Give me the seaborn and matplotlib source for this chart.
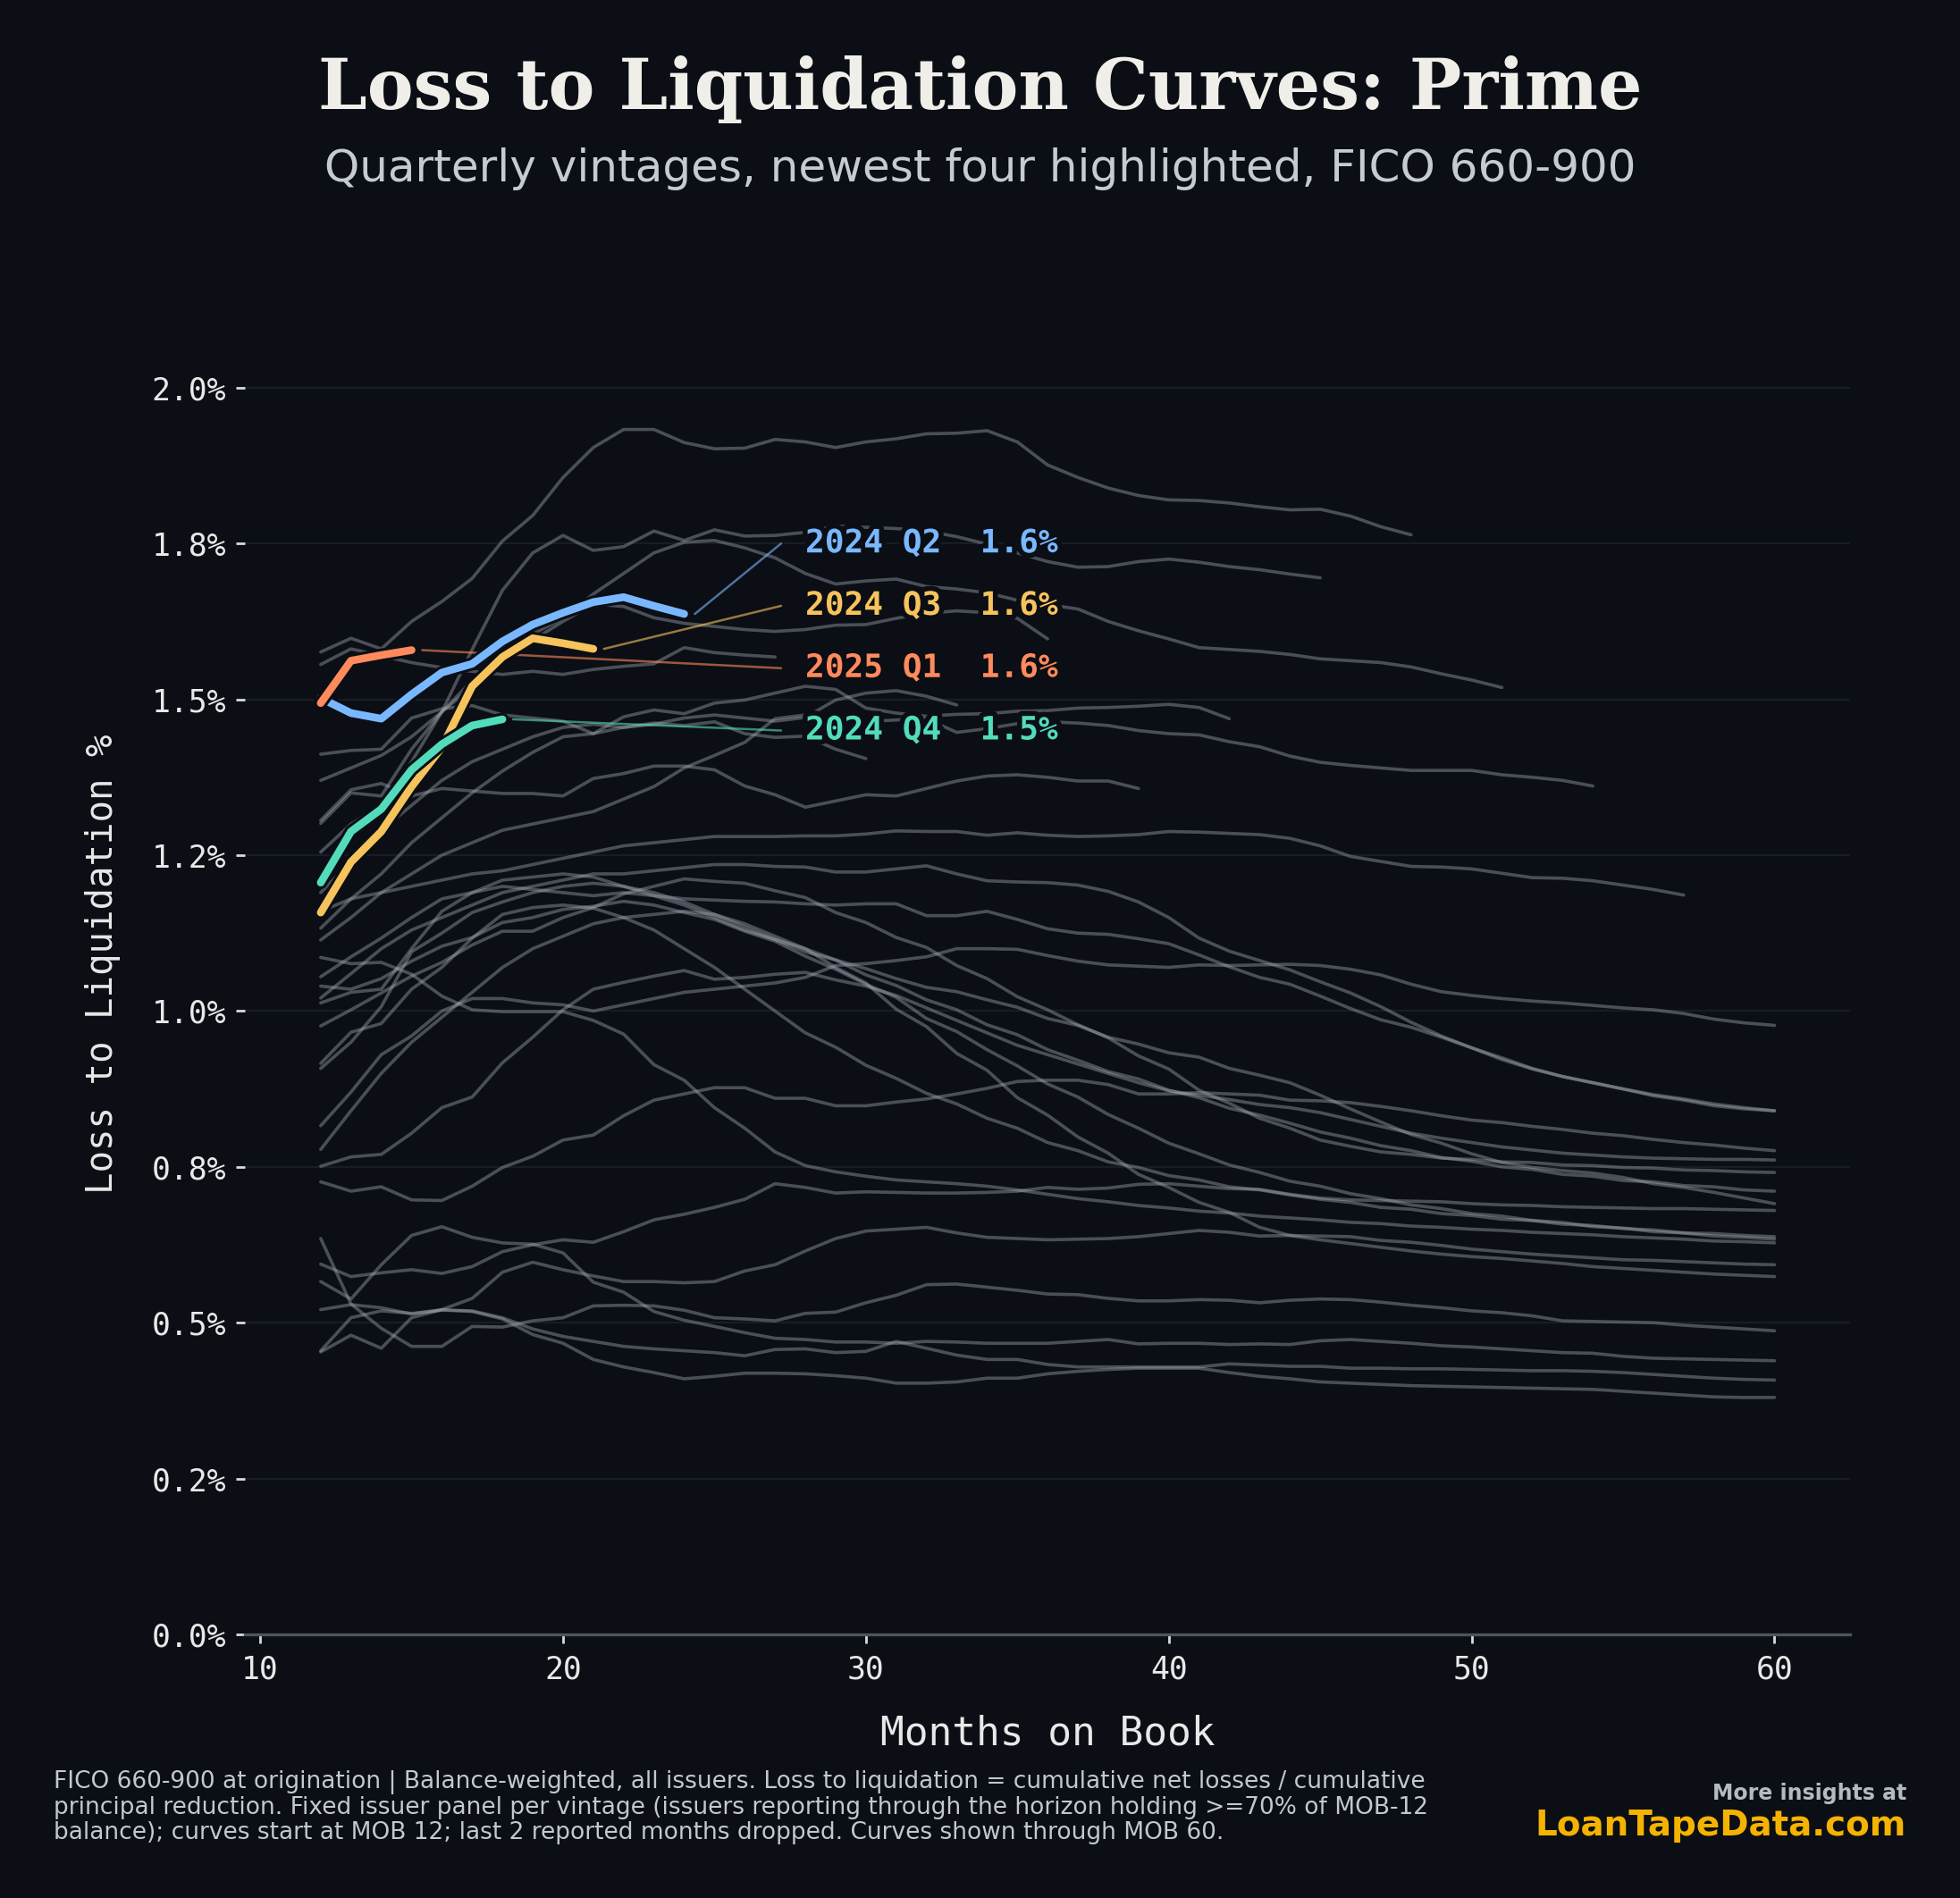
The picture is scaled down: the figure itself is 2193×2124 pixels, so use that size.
import matplotlib
matplotlib.use("Agg")
import matplotlib.pyplot as plt
import matplotlib.patheffects as pe
from matplotlib.ticker import MultipleLocator, FuncFormatter
import pandas as pd
import seaborn as sns

FIRST_MOB = 12

# --- gray vintages (loss to liquidation %, MOB 12 onward) ---
v2017_q1 = [0.521, 0.529, 0.524, 0.514, 0.521, 0.518, 0.506, 0.481, 0.467, 0.441, 0.429, 0.420, 0.410, 0.414, 0.419, 0.419, 0.418,
            0.415, 0.411, 0.403, 0.403, 0.405, 0.411, 0.411, 0.418, 0.422, 0.425, 0.427, 0.427, 0.427, 0.420, 0.414, 0.410,
            0.405, 0.403, 0.401, 0.399, 0.398, 0.397, 0.396, 0.395, 0.394, 0.393, 0.390, 0.387, 0.384, 0.381, 0.380, 0.380]
v2017_q2 = [0.455, 0.508, 0.519, 0.515, 0.520, 0.519, 0.508, 0.490, 0.478, 0.470, 0.462, 0.458, 0.455, 0.452, 0.447, 0.457, 0.458,
            0.452, 0.454, 0.470, 0.459, 0.448, 0.441, 0.441, 0.433, 0.429, 0.429, 0.429, 0.429, 0.429, 0.434, 0.432, 0.430,
            0.430, 0.427, 0.427, 0.426, 0.426, 0.425, 0.424, 0.423, 0.423, 0.422, 0.420, 0.417, 0.414, 0.411, 0.409, 0.408]
v2017_q3 = [0.566, 0.538, 0.593, 0.640, 0.654, 0.637, 0.628, 0.626, 0.612, 0.565, 0.549, 0.518, 0.504, 0.494, 0.484, 0.475, 0.473,
            0.469, 0.469, 0.467, 0.470, 0.469, 0.467, 0.467, 0.467, 0.470, 0.473, 0.466, 0.467, 0.467, 0.465, 0.466, 0.465,
            0.471, 0.473, 0.470, 0.467, 0.463, 0.461, 0.458, 0.455, 0.452, 0.451, 0.446, 0.443, 0.442, 0.441, 0.440, 0.439]
v2017_q4 = [0.635, 0.530, 0.491, 0.462, 0.462, 0.494, 0.493, 0.503, 0.508, 0.527, 0.528, 0.527, 0.520, 0.508, 0.506, 0.503, 0.515,
            0.517, 0.532, 0.544, 0.561, 0.562, 0.557, 0.552, 0.546, 0.545, 0.539, 0.535, 0.535, 0.537, 0.536, 0.532, 0.536,
            0.538, 0.537, 0.533, 0.528, 0.524, 0.519, 0.516, 0.511, 0.503, 0.502, 0.501, 0.500, 0.496, 0.493, 0.490, 0.487]
v2018_q1 = [0.453, 0.480, 0.459, 0.508, 0.521, 0.539, 0.581, 0.597, 0.585, 0.575, 0.566, 0.566, 0.564, 0.566, 0.583, 0.593, 0.615,
            0.635, 0.647, 0.650, 0.653, 0.644, 0.637, 0.635, 0.633, 0.634, 0.635, 0.638, 0.643, 0.648, 0.645, 0.639, 0.640,
            0.639, 0.638, 0.632, 0.629, 0.624, 0.618, 0.614, 0.610, 0.607, 0.604, 0.601, 0.600, 0.598, 0.596, 0.594, 0.593]
v2018_q2 = [0.594, 0.574, 0.580, 0.585, 0.579, 0.590, 0.614, 0.625, 0.633, 0.629, 0.646, 0.665, 0.674, 0.685, 0.698, 0.723, 0.717,
            0.708, 0.710, 0.709, 0.708, 0.708, 0.709, 0.711, 0.717, 0.714, 0.716, 0.722, 0.723, 0.719, 0.715, 0.714, 0.706,
            0.700, 0.697, 0.696, 0.695, 0.694, 0.691, 0.689, 0.688, 0.686, 0.685, 0.684, 0.683, 0.683, 0.682, 0.681, 0.680]
v2018_q3 = [0.726, 0.711, 0.718, 0.697, 0.696, 0.719, 0.749, 0.767, 0.793, 0.801, 0.832, 0.857, 0.867, 0.877, 0.877, 0.860, 0.860,
            0.848, 0.848, 0.854, 0.859, 0.867, 0.876, 0.887, 0.889, 0.889, 0.882, 0.867, 0.867, 0.869, 0.867, 0.865, 0.857,
            0.856, 0.853, 0.847, 0.840, 0.832, 0.825, 0.821, 0.815, 0.810, 0.804, 0.800, 0.794, 0.789, 0.785, 0.780, 0.776]
v2018_q4 = [0.751, 0.766, 0.770, 0.804, 0.845, 0.862, 0.917, 0.958, 1.002, 1.035, 1.046, 1.056, 1.065, 1.051, 1.054, 1.059, 1.062,
            1.050, 1.040, 1.025, 1.005, 0.985, 0.965, 0.945, 0.930, 0.915, 0.900, 0.885, 0.872, 0.865, 0.858, 0.850, 0.845,
            0.837, 0.826, 0.815, 0.804, 0.796, 0.789, 0.782, 0.777, 0.772, 0.769, 0.766, 0.764, 0.763, 0.762, 0.762, 0.761]
v2019_q1 = [0.778, 0.840, 0.900, 0.950, 0.990, 1.030, 1.070, 1.100, 1.120, 1.140, 1.150, 1.155, 1.160, 1.155, 1.140, 1.120, 1.100,
            1.070, 1.045, 1.003, 0.975, 0.932, 0.905, 0.861, 0.833, 0.798, 0.772, 0.738, 0.717, 0.693, 0.677, 0.653, 0.640,
            0.633, 0.627, 0.621, 0.615, 0.610, 0.606, 0.603, 0.599, 0.595, 0.590, 0.587, 0.584, 0.581, 0.578, 0.576, 0.574]
v2019_q2 = [0.916, 0.966, 0.980, 1.035, 1.070, 1.117, 1.155, 1.166, 1.170, 1.165, 1.150, 1.130, 1.100, 1.070, 1.035, 1.000, 0.965,
            0.942, 0.913, 0.892, 0.868, 0.851, 0.828, 0.812, 0.789, 0.776, 0.758, 0.749, 0.736, 0.729, 0.718, 0.713, 0.705,
            0.698, 0.693, 0.685, 0.682, 0.675, 0.672, 0.666, 0.664, 0.658, 0.656, 0.651, 0.649, 0.644, 0.643, 0.640, 0.638]
v2019_q3 = [1.040, 1.035, 1.052, 1.080, 1.104, 1.118, 1.142, 1.150, 1.163, 1.168, 1.176, 1.170, 1.158, 1.147, 1.128, 1.112, 1.088,
            1.067, 1.043, 1.022, 0.988, 0.967, 0.938, 0.912, 0.883, 0.862, 0.834, 0.812, 0.788, 0.771, 0.753, 0.741, 0.727,
            0.719, 0.707, 0.699, 0.689, 0.683, 0.675, 0.671, 0.664, 0.661, 0.654, 0.652, 0.646, 0.644, 0.639, 0.637, 0.634]
v2019_q4 = [1.086, 1.076, 1.078, 1.059, 1.024, 1.002, 0.999, 0.999, 0.999, 0.985, 0.963, 0.914, 0.889, 0.845, 0.812, 0.774, 0.752,
            0.742, 0.735, 0.729, 0.726, 0.723, 0.719, 0.713, 0.706, 0.699, 0.694, 0.688, 0.684, 0.679, 0.676, 0.671, 0.668,
            0.665, 0.661, 0.659, 0.655, 0.653, 0.650, 0.648, 0.645, 0.643, 0.641, 0.638, 0.636, 0.634, 0.631, 0.630, 0.628]
v2020_q1 = [0.908, 0.950, 1.007, 1.095, 1.125, 1.158, 1.175, 1.190, 1.200, 1.205, 1.200, 1.190, 1.175, 1.155, 1.135, 1.115, 1.095,
            1.082, 1.058, 1.041, 1.018, 1.002, 0.978, 0.962, 0.938, 0.921, 0.903, 0.891, 0.873, 0.861, 0.844, 0.833, 0.820,
            0.806, 0.796, 0.784, 0.776, 0.765, 0.759, 0.750, 0.746, 0.738, 0.735, 0.728, 0.726, 0.720, 0.718, 0.713, 0.711]
v2020_q2 = [0.976, 1.002, 1.029, 1.056, 1.078, 1.106, 1.128, 1.128, 1.150, 1.166, 1.188, 1.200, 1.212, 1.208, 1.205, 1.193, 1.182,
            1.158, 1.142, 1.118, 1.102, 1.073, 1.052, 1.023, 1.002, 0.978, 0.957, 0.928, 0.907, 0.873, 0.852, 0.828, 0.812,
            0.793, 0.783, 0.774, 0.770, 0.764, 0.762, 0.758, 0.757, 0.753, 0.752, 0.749, 0.748, 0.745, 0.744, 0.742, 0.741]
v2020_q3 = [1.013, 1.030, 1.035, 1.100, 1.160, 1.190, 1.210, 1.215, 1.220, 1.215, 1.200, 1.185, 1.170, 1.150, 1.130, 1.115, 1.100,
            1.082, 1.068, 1.052, 1.038, 1.031, 1.018, 1.006, 0.988, 0.977, 0.958, 0.947, 0.933, 0.926, 0.908, 0.897, 0.885,
            0.865, 0.843, 0.822, 0.802, 0.788, 0.771, 0.757, 0.749, 0.744, 0.740, 0.733, 0.723, 0.717, 0.709, 0.700, 0.691]
v2020_q4 = [1.055, 1.087, 1.117, 1.150, 1.180, 1.190, 1.200, 1.195, 1.190, 1.185, 1.190, 1.185, 1.180, 1.178, 1.176, 1.175, 1.172,
            1.170, 1.172, 1.172, 1.153, 1.153, 1.160, 1.147, 1.132, 1.125, 1.123, 1.116, 1.108, 1.090, 1.071, 1.054, 1.043,
            1.024, 1.004, 0.986, 0.974, 0.958, 0.941, 0.925, 0.908, 0.895, 0.885, 0.875, 0.864, 0.857, 0.848, 0.843, 0.840]
v2021_q1 = [1.021, 1.060, 1.100, 1.130, 1.150, 1.170, 1.190, 1.200, 1.210, 1.220, 1.220, 1.225, 1.230, 1.235, 1.235, 1.232, 1.231,
            1.223, 1.223, 1.228, 1.233, 1.220, 1.209, 1.207, 1.206, 1.202, 1.192, 1.175, 1.150, 1.117, 1.096, 1.081, 1.066,
            1.047, 1.029, 1.007, 0.982, 0.960, 0.941, 0.922, 0.907, 0.895, 0.885, 0.875, 0.866, 0.859, 0.851, 0.845, 0.840]
v2021_q2 = [0.816, 0.870, 0.930, 0.960, 1.000, 1.020, 1.020, 1.013, 1.010, 1.000, 1.010, 1.020, 1.030, 1.035, 1.040, 1.045, 1.054,
            1.073, 1.076, 1.081, 1.087, 1.100, 1.100, 1.099, 1.089, 1.080, 1.074, 1.072, 1.070, 1.074, 1.073, 1.074, 1.075,
            1.073, 1.067, 1.058, 1.043, 1.031, 1.025, 1.020, 1.016, 1.013, 1.009, 1.005, 1.002, 0.996, 0.987, 0.981, 0.977]
v2021_q3 = [1.160, 1.180, 1.190, 1.200, 1.210, 1.220, 1.225, 1.235, 1.245, 1.255, 1.265, 1.270, 1.275, 1.280, 1.280, 1.280, 1.281,
            1.281, 1.284, 1.289, 1.288, 1.288, 1.282, 1.286, 1.282, 1.280, 1.281, 1.283, 1.288, 1.287, 1.285, 1.283, 1.277,
            1.265, 1.248, 1.240, 1.232, 1.231, 1.228, 1.221, 1.214, 1.213, 1.209, 1.202, 1.195, 1.186]
v2021_q4 = [1.114, 1.150, 1.190, 1.220, 1.250, 1.270, 1.290, 1.300, 1.310, 1.320, 1.340, 1.360, 1.390, 1.410, 1.431, 1.469, 1.475,
            1.469, 1.464, 1.467, 1.469, 1.447, 1.453, 1.461, 1.464, 1.462, 1.458, 1.450, 1.445, 1.443, 1.432, 1.424, 1.409,
            1.399, 1.394, 1.390, 1.386, 1.386, 1.386, 1.379, 1.375, 1.370, 1.361]
v2022_q1 = [1.301, 1.350, 1.345, 1.420, 1.480, 1.530, 1.570, 1.605, 1.630, 1.669, 1.702, 1.735, 1.752, 1.755, 1.743, 1.727, 1.702,
            1.685, 1.690, 1.693, 1.681, 1.677, 1.671, 1.659, 1.652, 1.645, 1.625, 1.610, 1.597, 1.583, 1.580, 1.577, 1.572,
            1.565, 1.562, 1.559, 1.552, 1.541, 1.531, 1.519]
v2022_q2 = [1.576, 1.598, 1.581, 1.625, 1.657, 1.694, 1.754, 1.795, 1.856, 1.904, 1.933, 1.933, 1.912, 1.902, 1.903, 1.917, 1.913,
            1.904, 1.913, 1.918, 1.926, 1.927, 1.931, 1.913, 1.876, 1.856, 1.839, 1.827, 1.820, 1.819, 1.815, 1.809, 1.804,
            1.805, 1.794, 1.777, 1.764]
v2022_q3 = [1.255, 1.300, 1.330, 1.400, 1.480, 1.580, 1.675, 1.735, 1.763, 1.739, 1.745, 1.770, 1.755, 1.772, 1.762, 1.763, 1.768,
            1.778, 1.776, 1.774, 1.770, 1.761, 1.749, 1.735, 1.721, 1.712, 1.713, 1.721, 1.725, 1.720, 1.713, 1.708, 1.701,
            1.695]
v2022_q4 = [1.133, 1.180, 1.220, 1.270, 1.310, 1.350, 1.385, 1.415, 1.440, 1.445, 1.472, 1.483, 1.477, 1.494, 1.499, 1.510, 1.521,
            1.516, 1.486, 1.478, 1.473, 1.476, 1.477, 1.481, 1.482, 1.486, 1.487, 1.489, 1.492, 1.487, 1.469]
v2023_q1 = [1.306, 1.355, 1.365, 1.345, 1.357, 1.353, 1.349, 1.349, 1.345, 1.373, 1.381, 1.393, 1.393, 1.387, 1.361, 1.347, 1.327,
            1.337, 1.347, 1.345, 1.357, 1.369, 1.377, 1.379, 1.375, 1.369, 1.369, 1.357]
v2023_q2 = [1.370, 1.390, 1.410, 1.440, 1.480, 1.520, 1.560, 1.595, 1.625, 1.653, 1.649, 1.631, 1.622, 1.617, 1.612, 1.609, 1.612,
            1.619, 1.620, 1.630, 1.638, 1.642, 1.639, 1.630, 1.597]
v2023_q3 = [1.190, 1.240, 1.290, 1.330, 1.370, 1.400, 1.420, 1.440, 1.455, 1.460, 1.455, 1.460, 1.470, 1.475, 1.470, 1.465, 1.471,
            1.499, 1.510, 1.514, 1.505, 1.491]
v2023_q4 = [1.412, 1.418, 1.420, 1.470, 1.485, 1.490, 1.475, 1.470, 1.465, 1.445, 1.455, 1.462, 1.458, 1.464, 1.445, 1.439, 1.441,
            1.420, 1.405]
v2024_q1 = [1.556, 1.581, 1.570, 1.559, 1.551, 1.545, 1.540, 1.545, 1.540, 1.548, 1.553, 1.557, 1.583, 1.575, 1.571, 1.568]

# --- newest four, highlighted ---
v2024_q2 = [1.502, 1.478, 1.469, 1.508, 1.543, 1.557, 1.593, 1.620, 1.639, 1.656, 1.664, 1.650, 1.637]
v2024_q3 = [1.158, 1.239, 1.288, 1.360, 1.423, 1.521, 1.568, 1.598, 1.590, 1.581]
v2024_q4 = [1.206, 1.288, 1.324, 1.387, 1.428, 1.458, 1.468]
v2025_q1 = [1.494, 1.562, 1.571, 1.579]

gray_series = [
    ("2017 Q1", v2017_q1), ("2017 Q2", v2017_q2), ("2017 Q3", v2017_q3), ("2017 Q4", v2017_q4),
    ("2018 Q1", v2018_q1), ("2018 Q2", v2018_q2), ("2018 Q3", v2018_q3), ("2018 Q4", v2018_q4),
    ("2019 Q1", v2019_q1), ("2019 Q2", v2019_q2), ("2019 Q3", v2019_q3), ("2019 Q4", v2019_q4),
    ("2020 Q1", v2020_q1), ("2020 Q2", v2020_q2), ("2020 Q3", v2020_q3), ("2020 Q4", v2020_q4),
    ("2021 Q1", v2021_q1), ("2021 Q2", v2021_q2), ("2021 Q3", v2021_q3), ("2021 Q4", v2021_q4),
    ("2022 Q1", v2022_q1), ("2022 Q2", v2022_q2), ("2022 Q3", v2022_q3), ("2022 Q4", v2022_q4),
    ("2023 Q1", v2023_q1), ("2023 Q2", v2023_q2), ("2023 Q3", v2023_q3), ("2023 Q4", v2023_q4),
    ("2024 Q1", v2024_q1),
]
highlight_names = ["2024 Q2", "2024 Q3", "2024 Q4", "2025 Q1"]
highlight_values = [v2024_q2, v2024_q3, v2024_q4, v2025_q1]
highlight_colors = ["#79b8ff", "#f7c35c", "#52dcbc", "#ff8a5c"]

BG = "#0b0e14"
GRAY = "#a3abb6"
TEXT = "#e8e8e8"


def to_long(series):
    rows = []
    for name, vals in series:
        for i, v in enumerate(vals):
            rows.append((name, FIRST_MOB + i, v))
    return pd.DataFrame(rows, columns=["vintage", "mob", "ltl"])


gray_df = to_long(gray_series)
hl_df = to_long(list(zip(highlight_names, highlight_values)))

sns.set_style("dark")
plt.rcParams["font.family"] = ["DejaVu Sans Mono"]

fig = plt.figure(figsize=(2193 / 200, 2124 / 200), dpi=200, facecolor=BG)
ax = fig.add_axes([0.125, 0.1389, 0.819, 0.7061])
ax.set_facecolor(BG)

sns.lineplot(data=gray_df, x="mob", y="ltl", units="vintage", estimator=None,
             color=GRAY, alpha=0.42, linewidth=1.3, ax=ax, legend=False, zorder=2)

outline = lambda w: [pe.Stroke(linewidth=w, foreground=BG), pe.Normal()]

# label slots: sorted by last value, stacked downwards
ends = hl_df.groupby("vintage")["ltl"].last()
last_mob = hl_df.groupby("vintage")["mob"].max()
order = ends.sort_values(ascending=False).index.tolist()
label_top, label_step = 1.75, 0.10
leader_x, text_x = 27.2, 28.0

for name, color in zip(highlight_names, highlight_colors):
    sub = hl_df[hl_df["vintage"] == name]
    sns.lineplot(data=sub, x="mob", y="ltl", color=color, linewidth=3.1, ax=ax,
                 legend=False, zorder=5, path_effects=outline(5.3))
    ly = label_top - label_step * order.index(name)
    ax.plot([last_mob[name] + 0.35, leader_x], [ends[name], ly], color=color,
            lw=0.9, alpha=0.6, zorder=4)
    ax.text(text_x, ly, f"{name}  {ends[name]:.1f}%", color=color, fontsize=13,
            fontweight="bold", va="center", ha="left", zorder=6,
            path_effects=[pe.withStroke(linewidth=4, foreground=BG)])

ax.set_xlim(9.5, 62.5)
ax.set_ylim(0, 2.15)
ax.yaxis.set_major_locator(MultipleLocator(0.25))
ax.yaxis.set_major_formatter(FuncFormatter(lambda v, p: f"{v:.1f}%"))
ax.grid(axis="y", color="#181c25", linewidth=0.8)
ax.grid(axis="x", visible=False)
for side in ["left", "right", "top"]:
    ax.spines[side].set_visible(False)
ax.spines["bottom"].set_color("#4d535e")
ax.spines["bottom"].set_linewidth(1.2)
ax.tick_params(axis="both", colors="#d8dbe0", labelcolor=TEXT, labelsize=12.5,
               length=3.6, width=1, left=True, bottom=True)
ax.tick_params(axis="x", pad=4.5)
ax.tick_params(axis="y", pad=4)

ax.set_xlabel("Months on Book", fontsize=16, color=TEXT, labelpad=12)
ax.set_ylabel("Loss to Liquidation %", fontsize=14.7, color=TEXT, labelpad=12.5)

fig.text(0.5, 0.953, "Loss to Liquidation Curves: Prime", ha="center", va="center",
         fontsize=28, fontweight="bold", family="DejaVu Serif", color="#f0eee9")
fig.text(0.5, 0.911, "Quarterly vintages, newest four highlighted, FICO 660-900",
         ha="center", va="center", fontsize=18, family="DejaVu Sans", color="#c5cbd3")

footnote = ("FICO 660-900 at origination | Balance-weighted, all issuers. Loss to liquidation = cumulative net losses / cumulative\n"
            "principal reduction. Fixed issuer panel per vintage (issuers reporting through the horizon holding >=70% of MOB-12\n"
            "balance); curves start at MOB 12; last 2 reported months dropped. Curves shown through MOB 60.")
fig.text(0.0274, 0.0675, footnote, ha="left", va="top", fontsize=9.5, family="DejaVu Sans",
         color="#c3c8d0", linespacing=1.1)
fig.text(0.9726, 0.055, "More insights at", ha="right", va="center", fontsize=8.5,
         fontweight="bold", family="DejaVu Sans", color="#b4bac4")
fig.text(0.9726, 0.038, "LoanTapeData.com", ha="right", va="center", fontsize=14,
         fontweight="bold", family="DejaVu Sans", color="#f5b301")

fig.savefig("out.png", dpi=200, facecolor=BG)
